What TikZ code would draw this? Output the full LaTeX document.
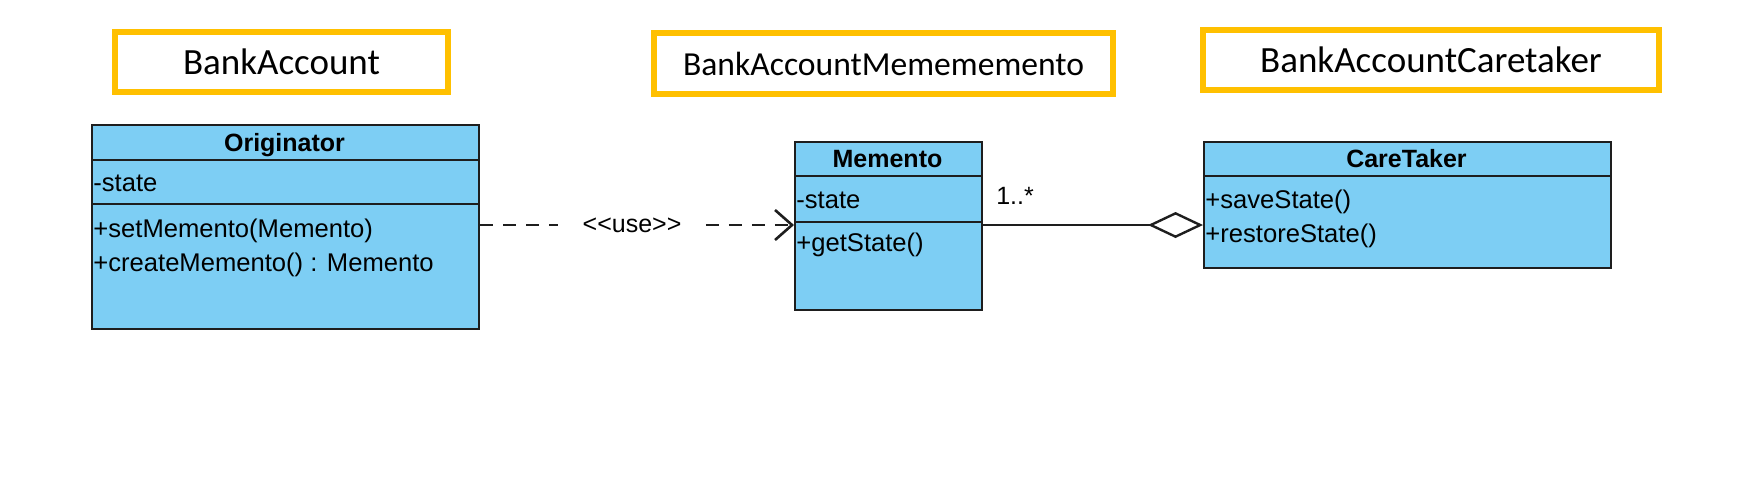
\documentclass[tikz,border=0pt]{standalone}
\usepackage{fontspec}
\setmainfont{Liberation Sans}
\newfontfamily\calib{Carlito}
\usetikzlibrary{arrows.meta}
\definecolor{umlblue}{RGB}{125,206,244}
\definecolor{gold}{RGB}{255,192,0}
\definecolor{umlline}{RGB}{30,30,30}
\begin{document}
\begin{tikzpicture}[x=0.5pt,y=-0.5pt,
  titlebox/.style={draw=gold, line width=3pt, fill=white, inner sep=0pt, font=\calib\fontsize{18.5}{20}\selectfont},
  classbox/.style={draw=umlline, line width=1pt, fill=umlblue, inner sep=0pt, anchor=north west},
  cname/.style={font=\bfseries\fontsize{12.5}{14}\selectfont, inner sep=0pt, anchor=base},
  member/.style={font=\fontsize{12.8}{14}\selectfont, inner sep=0pt, anchor=base west},
  sepline/.style={draw=umlline, line width=1pt},
  dep/.style={draw=umlline, line width=1.3pt, dash pattern=on 6.5pt off 5pt},
  assoc/.style={draw=umlline, line width=1.2pt}]
\useasboundingbox (0,0) rectangle (1749,494);

% package titles
\node[titlebox, minimum width=166.5pt, minimum height=30pt] (t1) at (281.5,62) {BankAccount};
\node[titlebox, minimum width=229.5pt, minimum height=30.5pt, font=\calib\fontsize{16.8}{18}\selectfont] (t2) at (883.5,63.5) {BankAccountMemememento};
\node[titlebox, minimum width=228pt, minimum height=30pt] (t3) at (1431,60) {BankAccountCaretaker};

% Originator
\node[classbox, minimum width=193.5pt, minimum height=102pt] (orig) at (91,124) {};
\draw[sepline] (orig.west |- 0,160) -- (orig.east |- 0,160);
\draw[sepline] (orig.west |- 0,204) -- (orig.east |- 0,204);
\node[cname] (origname) at (284.5,151) {Originator};
\node[member] (origa1) at (93,191) {-state};
\node[member] (origo1) at (93,237) {+setMemento(Memento)};
\node[member] (origo2) at (93,271) {+createMemento() : Memento};

% Memento
\node[classbox, minimum width=93.5pt, minimum height=84pt] (mem) at (794,141) {};
\draw[sepline] (mem.west |- 0,176) -- (mem.east |- 0,176);
\draw[sepline] (mem.west |- 0,222) -- (mem.east |- 0,222);
\node[cname] (memname) at (887.5,167) {Memento};
\node[member] (mema1) at (796,208) {-state};
\node[member] (memo1) at (796,251) {+getState()};

% CareTaker
\node[classbox, minimum width=203.5pt, minimum height=63pt] (care) at (1203,141) {};
\draw[sepline] (care.west |- 0,176) -- (care.east |- 0,176);
\node[cname] (carename) at (1406.5,167) {CareTaker};
\node[member] (careo1) at (1205,208) {+saveState()};
\node[member] (careo2) at (1205,242) {+restoreState()};

% dependency
\node[font=\fontsize{12.5}{14}\selectfont, inner ysep=0pt, inner xsep=12pt] (usel) at (632,225) {<\kern0pt<use>\kern0pt>};
\draw[dep] (orig.east |- 0,225) -- (usel.west);
\draw[dep, -{Straight Barb[length=8.5pt,width=15pt]}] (usel.east) -- (mem.west |- 0,225);

% aggregation
\draw[assoc, -{Diamond[open, length=27.5pt, width=13pt]}] (mem.east |- 0,225) -- (care.west |- 0,225);
\node[font=\fontsize{12.5}{14}\selectfont, inner sep=0pt] (mult) at (1015,196) {1..*};
\end{tikzpicture}
\end{document}
